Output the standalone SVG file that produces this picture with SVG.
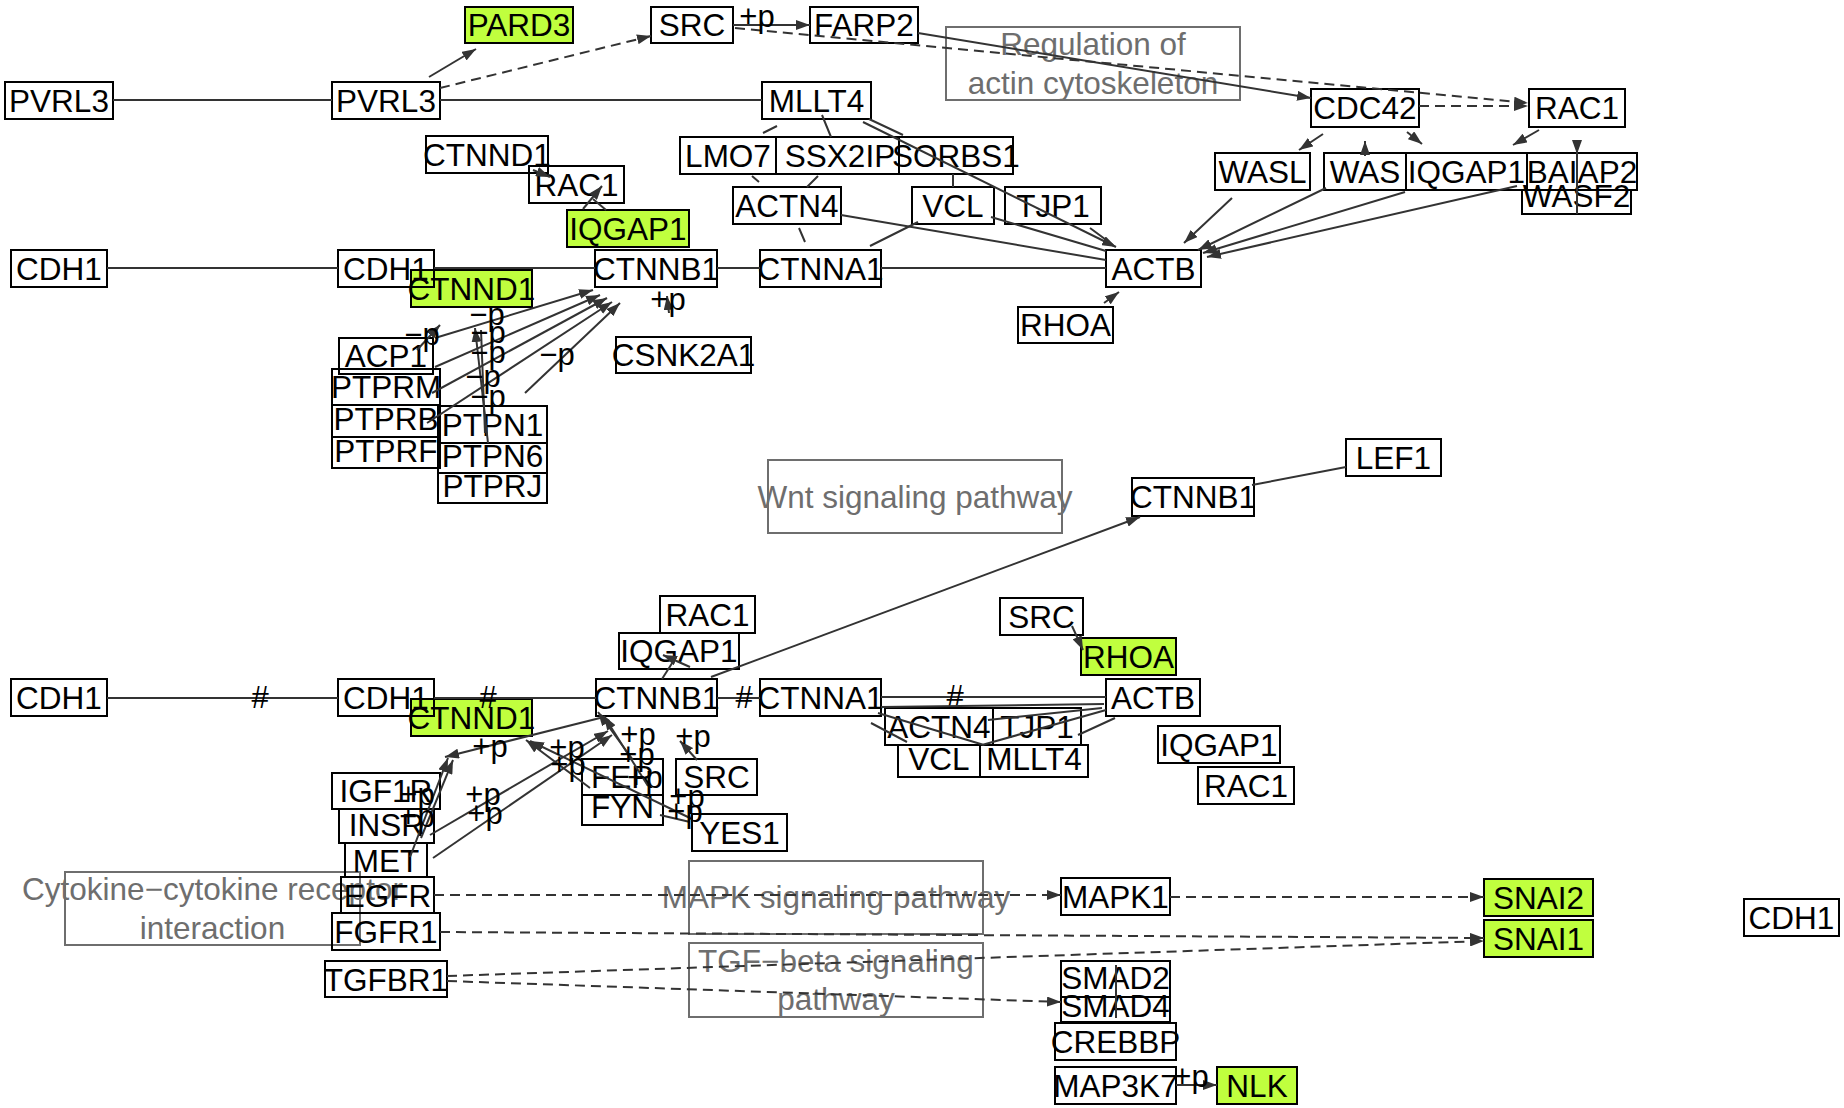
<svg xmlns="http://www.w3.org/2000/svg" width="1844" height="1108" viewBox="0 0 1844 1108">
<style>
.n rect{fill:none;stroke:#000;stroke-width:2}
.g rect{fill:#C0FF3E;stroke:#000;stroke-width:2}
.n text,.g text{font-family:"Liberation Sans",Arial,sans-serif;font-size:31.5px;text-anchor:middle;fill:#000}
.pw rect{fill:none;stroke:#6e6e6e;stroke-width:2}
.pw text{font-family:"Liberation Sans",Arial,sans-serif;font-size:31.5px;text-anchor:middle;fill:#6e6e6e}
.e{stroke:#333;stroke-width:2;fill:none}
.ar{marker-end:url(#a)}
.d{stroke-dasharray:10 6}
.l{font-family:"Liberation Sans",Arial,sans-serif;font-size:31px;text-anchor:middle;fill:#000}
</style>
<defs>
<marker id="a" viewBox="0 0 14 10" refX="14" refY="5" markerWidth="14" markerHeight="10" markerUnits="userSpaceOnUse" orient="auto"><path d="M0,0L14,5L0,10z" fill="#333"/></marker>
</defs>
<rect x="0" y="0" width="1844" height="1108" fill="#fff"/>
<g id="pathways">
<g id="pw-actin" class="pw"><rect x="946" y="27" width="294" height="73"/><text x="1093" y="55">Regulation of</text><text x="1093" y="94">actin cytoskeleton</text></g>
<g id="pw-wnt" class="pw"><rect x="768" y="460" width="294" height="73"/><text x="915" y="508">Wnt signaling pathway</text></g>
<g id="pw-cytokine" class="pw"><rect x="65" y="872" width="295" height="73"/><text x="212.5" y="900">Cytokine−cytokine receptor</text><text x="212.5" y="939">interaction</text></g>
<g id="pw-mapk" class="pw"><rect x="689" y="861" width="294" height="73"/><text x="836" y="908">MAPK signaling pathway</text></g>
<g id="pw-tgf" class="pw"><rect x="689" y="943" width="294" height="74"/><text x="836" y="972">TGF−beta signaling</text><text x="836" y="1010">pathway</text></g>
</g>
<g id="nodes">
<g id="n-PARD3" class="g"><rect x="465" y="7" width="108" height="36"/><text x="519" y="36">PARD3</text></g>
<g id="n-IQGAP1-a" class="g"><rect x="567" y="210" width="122" height="37"/><text x="628" y="240">IQGAP1</text></g>
<g id="n-CTNND1-a" class="g"><rect x="411" y="270" width="121" height="37"/><text x="471.5" y="300">CTNND1</text></g>
<g id="n-RHOA-b" class="g"><rect x="1081" y="638" width="95" height="37"/><text x="1128.5" y="668">RHOA</text></g>
<g id="n-CTNND1-b" class="g"><rect x="411" y="699" width="121" height="37"/><text x="471.5" y="729">CTNND1</text></g>
<g id="n-SNAI2" class="g"><rect x="1484" y="879" width="109" height="37"/><text x="1538.5" y="909">SNAI2</text></g>
<g id="n-SNAI1" class="g"><rect x="1484" y="920" width="109" height="37"/><text x="1538.5" y="950">SNAI1</text></g>
<g id="n-NLK" class="g"><rect x="1217" y="1067" width="80" height="37"/><text x="1257" y="1097">NLK</text></g>

<g id="n-PVRL3-1" class="n"><rect x="5" y="82" width="108" height="37"/><text x="59" y="112">PVRL3</text></g>
<g id="n-PVRL3-2" class="n"><rect x="332" y="82" width="108" height="37"/><text x="386" y="112">PVRL3</text></g>
<g id="n-SRC-1" class="n"><rect x="651" y="7" width="82" height="36"/><text x="692" y="36">SRC</text></g>
<g id="n-FARP2" class="n"><rect x="810" y="7" width="108" height="36"/><text x="864" y="36">FARP2</text></g>
<g id="n-MLLT4-1" class="n"><rect x="762" y="82" width="109" height="37"/><text x="816.5" y="112">MLLT4</text></g>
<g id="n-CDC42" class="n"><rect x="1311" y="89" width="108" height="38"/><text x="1365" y="119">CDC42</text></g>
<g id="n-RAC1-1" class="n"><rect x="1529" y="89" width="96" height="38"/><text x="1577" y="119">RAC1</text></g>
<g id="n-CTNND1-t" class="n"><rect x="426" y="136" width="122" height="37"/><text x="487" y="166">CTNND1</text></g>
<g id="n-RAC1-2" class="n"><rect x="529" y="166" width="95" height="37"/><text x="576.5" y="196">RAC1</text></g>
<g id="n-LMO7" class="n"><rect x="680" y="137" width="96" height="37"/><text x="728" y="167">LMO7</text></g>
<g id="n-SSX2IP" class="n"><rect x="776" y="137" width="123" height="37"/><text x="840" y="167">SSX2IP</text></g>
<g id="n-SORBS1" class="n"><rect x="899" y="137" width="114" height="37"/><text x="956" y="167">SORBS1</text></g>
<g id="n-WASL" class="n"><rect x="1215" y="153" width="95" height="37"/><text x="1262.5" y="183">WASL</text></g>
<g id="n-WAS" class="n"><rect x="1324" y="153" width="82" height="37"/><text x="1365" y="183">WAS</text></g>
<g id="n-IQGAP1-2" class="n"><rect x="1406" y="153" width="121" height="37"/><text x="1466.5" y="183">IQGAP1</text></g>
<g id="n-BAIAP2" class="n"><rect x="1527" y="153" width="110" height="37"/><text x="1582" y="183">BAIAP2</text></g>
<g id="n-WASF2" class="n"><rect x="1522" y="190" width="109" height="24"/><text x="1576.5" y="207">WASF2</text></g>
<g id="n-ACTN4-1" class="n"><rect x="733" y="187" width="108" height="37"/><text x="787" y="217">ACTN4</text></g>
<g id="n-VCL-1" class="n"><rect x="912" y="187" width="82" height="37"/><text x="953" y="217">VCL</text></g>
<g id="n-TJP1-1" class="n"><rect x="1005" y="187" width="96" height="37"/><text x="1053" y="217">TJP1</text></g>
<g id="n-CDH1-1" class="n"><rect x="11" y="250" width="96" height="37"/><text x="59" y="280">CDH1</text></g>
<g id="n-CDH1-2" class="n"><rect x="338" y="250" width="96" height="37"/><text x="386" y="280">CDH1</text></g>
<g id="n-CTNNB1-1" class="n"><rect x="595" y="250" width="122" height="37"/><text x="656" y="280">CTNNB1</text></g>
<g id="n-CTNNA1-1" class="n"><rect x="760" y="250" width="121" height="37"/><text x="820.5" y="280">CTNNA1</text></g>
<g id="n-ACTB-1" class="n"><rect x="1106" y="250" width="95" height="37"/><text x="1153.5" y="280">ACTB</text></g>
<g id="n-RHOA-1" class="n"><rect x="1018" y="307" width="95" height="36"/><text x="1065.5" y="336">RHOA</text></g>
<g id="n-ACP1" class="n"><rect x="339" y="338" width="94" height="36"/><text x="386" y="367">ACP1</text></g>
<g id="n-PTPRM" class="n"><rect x="332" y="369" width="108" height="36"/><text x="386" y="398">PTPRM</text></g>
<g id="n-PTPRB" class="n"><rect x="332" y="405" width="108" height="32"/><text x="386" y="430">PTPRB</text></g>
<g id="n-PTPRF" class="n"><rect x="332" y="437" width="108" height="31"/><text x="386" y="462">PTPRF</text></g>
<g id="n-PTPN1" class="n"><rect x="438" y="406" width="109" height="37"/><text x="492.5" y="436">PTPN1</text></g>
<g id="n-PTPN6" class="n"><rect x="438" y="443" width="109" height="30"/><text x="492.5" y="467">PTPN6</text></g>
<g id="n-PTPRJ" class="n"><rect x="438" y="473" width="109" height="30"/><text x="492.5" y="497">PTPRJ</text></g>
<g id="n-CSNK2A1" class="n"><rect x="616" y="337" width="135" height="36"/><text x="683.5" y="366">CSNK2A1</text></g>
<g id="n-LEF1" class="n"><rect x="1346" y="439" width="95" height="37"/><text x="1393.5" y="469">LEF1</text></g>
<g id="n-CTNNB1-w" class="n"><rect x="1132" y="478" width="122" height="38"/><text x="1193" y="508">CTNNB1</text></g>
<g id="n-RAC1-3" class="n"><rect x="660" y="596" width="95" height="37"/><text x="707.5" y="626">RAC1</text></g>
<g id="n-IQGAP1-3" class="n"><rect x="619" y="633" width="120" height="36"/><text x="679" y="662">IQGAP1</text></g>
<g id="n-SRC-2" class="n"><rect x="1000" y="598" width="83" height="37"/><text x="1041.5" y="628">SRC</text></g>
<g id="n-CDH1-3" class="n"><rect x="11" y="679" width="96" height="37"/><text x="59" y="709">CDH1</text></g>
<g id="n-CDH1-4" class="n"><rect x="338" y="679" width="96" height="37"/><text x="386" y="709">CDH1</text></g>
<g id="n-CTNNB1-2" class="n"><rect x="596" y="679" width="121" height="37"/><text x="656.5" y="709">CTNNB1</text></g>
<g id="n-CTNNA1-2" class="n"><rect x="760" y="679" width="121" height="37"/><text x="820.5" y="709">CTNNA1</text></g>
<g id="n-ACTB-2" class="n"><rect x="1106" y="679" width="94" height="37"/><text x="1153" y="709">ACTB</text></g>
<g id="n-ACTN4-2" class="n"><rect x="885" y="708" width="108" height="37"/><text x="939" y="738">ACTN4</text></g>
<g id="n-TJP1-2" class="n"><rect x="993" y="708" width="88" height="37"/><text x="1037" y="738">TJP1</text></g>
<g id="n-VCL-2" class="n"><rect x="898" y="745" width="82" height="32"/><text x="939" y="770">VCL</text></g>
<g id="n-MLLT4-2" class="n"><rect x="980" y="745" width="108" height="32"/><text x="1034" y="770">MLLT4</text></g>
<g id="n-IQGAP1-4" class="n"><rect x="1158" y="726" width="122" height="37"/><text x="1219" y="756">IQGAP1</text></g>
<g id="n-RAC1-4" class="n"><rect x="1198" y="767" width="96" height="37"/><text x="1246" y="797">RAC1</text></g>
<g id="n-FER" class="n"><rect x="582" y="759" width="81" height="36"/><text x="622.5" y="788">FER</text></g>
<g id="n-FYN" class="n"><rect x="582" y="795" width="81" height="30"/><text x="622.5" y="818">FYN</text></g>
<g id="n-SRC-3" class="n"><rect x="676" y="759" width="81" height="36"/><text x="716.5" y="788">SRC</text></g>
<g id="n-YES1" class="n"><rect x="692" y="814" width="95" height="37"/><text x="739.5" y="844">YES1</text></g>
<g id="n-IGF1R" class="n"><rect x="332" y="773" width="108" height="36"/><text x="386" y="802">IGF1R</text></g>
<g id="n-INSR" class="n"><rect x="339" y="809" width="95" height="34"/><text x="386.5" y="836">INSR</text></g>
<g id="n-MET" class="n"><rect x="345" y="843" width="82" height="34"/><text x="386" y="872">MET</text></g>
<g id="n-EGFR" class="n"><rect x="341" y="877" width="93" height="36"/><text x="387.5" y="907">EGFR</text></g>
<g id="n-FGFR1" class="n"><rect x="332" y="913" width="108" height="37"/><text x="386" y="943">FGFR1</text></g>
<g id="n-TGFBR1" class="n"><rect x="325" y="961" width="122" height="36"/><text x="386" y="991">TGFBR1</text></g>
<g id="n-MAPK1" class="n"><rect x="1061" y="878" width="109" height="37"/><text x="1115.5" y="908">MAPK1</text></g>
<g id="n-CDH1-5" class="n"><rect x="1744" y="899" width="95" height="37"/><text x="1791.5" y="929">CDH1</text></g>
<g id="n-SMAD2" class="n"><rect x="1061" y="961" width="109" height="36"/><text x="1115.5" y="989">SMAD2</text></g>
<g id="n-SMAD4" class="n"><rect x="1061" y="997" width="109" height="25"/><text x="1115.5" y="1017">SMAD4</text></g>
<g id="n-CREBBP" class="n"><rect x="1055" y="1023" width="121" height="37"/><text x="1115.5" y="1053">CREBBP</text></g>
<g id="n-MAP3K7" class="n"><rect x="1055" y="1067" width="121" height="37"/><text x="1115.5" y="1097">MAP3K7</text></g>
</g>
<g id="connectors">
<path class="e" d="M113,100H332M440,100H762"/>
<path class="e ar" d="M429,77L476,49"/>
<path class="e d ar" d="M440,88L651,36"/>
<path class="e ar" d="M733,25L810,25"/>
<path class="e ar" d="M918,33L1311,98"/>
<path class="e d ar" d="M735,28L1528,103"/>
<path class="e d ar" d="M1419,106L1528,106"/>
<path class="e ar" d="M1323,134L1299,150"/>
<path class="e ar" d="M1365,156L1365,141"/>
<path class="e ar" d="M1407,132L1422,144"/>
<path class="e ar" d="M1539,130L1513,145"/>
<path class="e ar" d="M1577,140L1577,154"/>
<path class="e" d="M1577,154V214"/>
<path class="e ar" d="M1232,198L1184,243"/>
<path class="e ar" d="M1326,188L1198,250"/>
<path class="e ar" d="M1405,192L1203,253"/>
<path class="e ar" d="M1517,186L1207,257"/>
<path class="e ar" d="M863,122L1116,247"/>
<path class="e" d="M869,119L903,135M1090,228L1113,245"/>
<path class="e" d="M841,215L1106,260M991,217L1106,251"/>
<path class="e" d="M881,268H1106M717,268H760M107,268H338M434,268H595"/>
<path class="e" d="M763,133L777,126M822,115L831,137M752,176L759,182M818,176L807,187M953,174V187M799,228L805,242M918,222L870,246"/>
<path class="e ar" d="M1104,303L1119,292"/>
<path class="e ar" d="M533,170L550,177"/>
<path class="e ar" d="M583,209L602,186"/>
<path class="e" d="M593,199L606,210"/>
<path class="e ar" d="M435,338L593,290"/>
<path class="e ar" d="M435,367L600,295"/>
<path class="e ar" d="M432,393L607,298"/>
<path class="e ar" d="M427,423L612,302"/>
<path class="e ar" d="M525,393L620,303"/>
<path class="e ar" d="M488,443L475,328"/>
<path class="e" d="M485,433L481,330"/>
<path class="e ar" d="M417,350L440,325"/>
<path class="e ar" d="M669,313L667,296"/>
<text class="l" x="757" y="27">+p</text>
<text class="l" x="487" y="325">−p</text>
<text class="l" x="488" y="343">−p</text>
<text class="l" x="488" y="363">−p</text>
<text class="l" x="483" y="387">−p</text>
<text class="l" x="488" y="407">−p</text>
<text class="l" x="422" y="345">−p</text>
<text class="l" x="557" y="365">−p</text>
<text class="l" x="668" y="310">+p</text>

<path class="e" d="M107,698H338M434,698H596M717,698H760M881,697H1106"/>
<text class="l" x="260" y="708">#</text>
<text class="l" x="488" y="708">#</text>
<text class="l" x="744" y="708">#</text>
<text class="l" x="955" y="707">#</text>
<path class="e ar" d="M711,677L1140,517"/>
<path class="e" d="M1252,485L1346,467"/>
<path class="e ar" d="M1072,626L1083,650"/>
<path class="e" d="M662,679L676,657"/>
<path class="e ar" d="M690,667L663,655"/>
<path class="e" d="M881,707L1104,704M878,713L984,745M982,745L1106,710M1078,735L1115,718M871,723L907,742M988,720L1102,708"/>
<path class="e ar" d="M600,718L445,757"/>
<path class="e ar" d="M410,857L448,758"/>
<path class="e ar" d="M421,838L453,760"/>
<path class="e ar" d="M430,835L608,731"/>
<path class="e ar" d="M433,858L612,735"/>
<path class="e ar" d="M590,788L526,740"/>
<path class="e ar" d="M690,818L530,741"/>
<path class="e ar" d="M633,760L598,712"/>
<path class="e ar" d="M648,786L604,716"/>
<path class="e ar" d="M697,760L680,741"/>
<path class="e" d="M660,815L690,822"/>
<text class="l" x="490" y="757">+p</text>
<text class="l" x="567" y="758">+p</text>
<text class="l" x="568" y="775">+p</text>
<text class="l" x="483" y="805">+p</text>
<text class="l" x="485" y="824">+p</text>
<text class="l" x="417" y="805">+p</text>
<text class="l" x="417" y="827">+p</text>
<text class="l" x="638" y="745">+p</text>
<text class="l" x="637" y="765">+p</text>
<text class="l" x="645" y="788">+p</text>
<text class="l" x="693" y="747">+p</text>
<text class="l" x="687" y="807">+p</text>
<text class="l" x="685" y="822">+p</text>
<path class="e d ar" d="M434,895H1061"/>
<path class="e d ar" d="M1170,897H1484"/>
<path class="e d ar" d="M440,932L1484,938"/>
<path class="e d ar" d="M447,976L1484,941"/>
<path class="e d ar" d="M447,981L1061,1002"/>
<path class="e ar" d="M1176,1085H1217"/>
<text class="l" x="1191" y="1087">+p</text>
<path class="e" d="M1116,965V1018"/>
</g>
</svg>
